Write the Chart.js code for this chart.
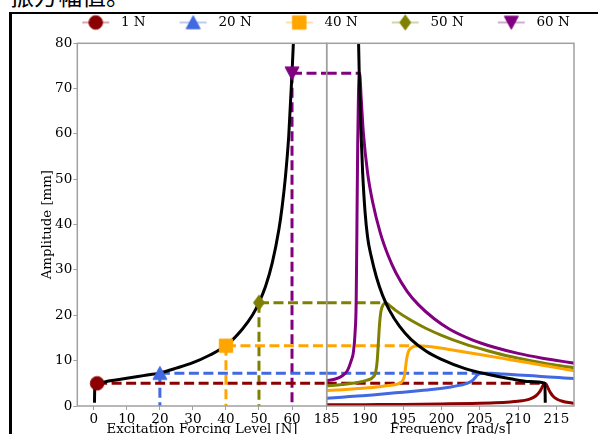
<!DOCTYPE html>
<html><head><meta charset="utf-8">
<script src="https://cdn.jsdelivr.net/npm/chart.js@4.4.0/dist/chart.umd.min.js"></script>
<style>
html,body{margin:0;padding:0;background:#fff;overflow:hidden;width:598px;height:434px;}
#wrap{position:relative;width:598px;height:434px;overflow:hidden;background:#fff;}
#hdr{position:absolute;left:10px;top:-17px;font-size:24px;line-height:24px;font-family:"Noto Sans CJK SC";color:#000;white-space:nowrap;}
.bl{position:absolute;background:#000;}
canvas{position:absolute;left:0;top:0;}
</style></head><body>
<div id="wrap">
<div id="hdr">振方幅值。</div>
<div class="bl" style="left:9px;top:12px;width:3px;height:430px"></div>
<div class="bl" style="left:9px;top:12px;width:570px;height:1.5px"></div>
<div class="bl" style="left:578px;top:11.5px;width:20px;height:2.5px"></div>
<canvas id="cL" width="598" height="445"></canvas>
<canvas id="cR" width="598" height="445"></canvas>
</div>
<script>
// ---------- data ----------
const seriesLabels = ['1 N', '20 N', '40 N', '50 N', '60 N'];
const seriesColors = ['#8B0000', '#4169E1', '#FFA500', '#808000', '#800080'];
const markerShapes = ['circle', 'triangle', 'rect', 'diamond', 'triangleDown'];
const forceLevels = [1, 20, 40, 50, 60];
const peakAmplitudes = [5.0, 7.25, 13.3, 22.8, 73.4];
const peakFrequencies = [213.5, 205.4, 197.0, 192.7, 189.3];

const backboneForce    = [0.2, 0.3, 1, 5, 10, 15, 20, 25, 30, 35, 40, 45, 48, 50, 52, 54, 56, 57, 58, 59, 60, 60.5, 61];
const backboneForceAmp = [0.7, 4.8, 5.05, 5.55, 6.1, 6.7, 7.3, 8.35, 9.55, 11.2, 13.3, 17.0, 20.0, 22.8, 26.4, 31.5, 38.8, 43.9, 50.5, 59.5, 73.4, 81.5, 92];

const backboneFreq    = [189.1, 189.25, 189.45, 189.7, 190.0, 190.35, 190.8, 191.5, 192.3, 193.2, 194.5, 196, 198, 200, 203, 206, 209, 211.5, 213.5, 213.55];
const backboneFreqAmp = [85, 73.4, 61.5, 51.3, 43.0, 37.1, 33.1, 28.4, 24.4, 21.1, 17.6, 14.7, 12.1, 10.3, 8.3, 7.0, 6.0, 5.4, 5.0, 0.7];

const freq1N = [185, 190, 195, 200, 204, 207, 209, 210.5, 211.5, 212.3, 212.8, 213.1, 213.35, 213.5, 213.65, 213.9, 214.2, 214.6, 215.1, 215.8, 216.6, 217.5];
const amp1N  = [0.25, 0.3, 0.35, 0.45, 0.55, 0.7, 0.9, 1.15, 1.5, 2.2, 3.1, 4.0, 4.8, 5.0, 4.8, 4.0, 3.0, 2.1, 1.5, 1.05, 0.75, 0.55];

const freq20N = [185, 187, 189, 191, 193, 195, 197, 199, 201, 202.5, 203.5, 204.1, 204.4, 204.7, 205.1, 205.5, 206.5, 208, 210, 212, 214, 216, 217.5];
const amp20N  = [1.7, 1.95, 2.2, 2.45, 2.75, 3.05, 3.35, 3.7, 4.15, 4.6, 5.1, 5.7, 6.3, 6.85, 7.2, 7.25, 7.2, 7.05, 6.85, 6.65, 6.4, 6.2, 6.05];

const freq40N = [185, 187, 189, 191, 193, 194.3, 194.9, 195.15, 195.3, 195.45, 195.7, 196.2, 197, 198, 199.8, 202, 205, 208, 211, 214, 217.5];
const amp40N  = [3.4, 3.6, 3.85, 4.1, 4.5, 4.9, 5.5, 6.6, 8.5, 10.5, 12.1, 13.0, 13.3, 13.2, 12.8, 12.2, 11.35, 10.5, 9.65, 8.75, 7.7];

const freq50N = [185, 187, 189, 190.3, 191, 191.4, 191.6, 191.75, 191.9, 192.1, 192.4, 192.7, 193.2, 194, 196, 198, 200, 203, 206, 209, 212, 215, 217.5];
const amp50N  = [4.4, 4.75, 5.2, 5.7, 6.3, 7.5, 10, 14, 18, 21, 22.4, 22.8, 22.2, 21.1, 18.9, 17.1, 15.6, 13.7, 12.2, 10.9, 9.9, 9.0, 8.4];

const freq60N = [185, 186, 187, 187.7, 188.2, 188.5, 188.7, 188.85, 188.95, 189.05, 189.15, 189.3, 189.5, 189.8, 190.35, 191, 192, 193, 194, 195.5, 197, 199, 201, 204, 207, 210, 213, 217.5];
const amp60N  = [5.6, 5.9, 6.6, 7.8, 10, 12, 16, 23, 40, 58, 69, 73.4, 68, 60, 51.3, 45.0, 38.2, 33.3, 29.5, 25.3, 22.3, 19.3, 17.0, 14.6, 12.9, 11.6, 10.6, 9.4];

const frfFreqs = [freq1N, freq20N, freq40N, freq50N, freq60N];
const frfAmps  = [amp1N, amp20N, amp40N, amp50N, amp60N];

const forceTicks = [0, 10, 20, 30, 40, 50, 60];
const freqTicks  = [185, 190, 195, 200, 205, 210, 215];
const ampTicks   = [0, 10, 20, 30, 40, 50, 60, 70, 80];

// ---------- styles ----------
const FONT = 'DejaVu Serif';
const AXIS = '#a0a0a0';
const DASH = [10, 4.5];
const LEFT_MIN = -5, LEFT_MAX = 70.5, RIGHT_MIN = 185, RIGHT_MAX = 217.3;

function drawMarker(ctx, shape, cx, cy, color) {
  ctx.fillStyle = color; ctx.strokeStyle = color; ctx.lineWidth = 1;
  ctx.beginPath();
  if (shape === 'circle') ctx.arc(cx, cy, 6.8, 0, Math.PI * 2);
  else if (shape === 'triangle') { ctx.moveTo(cx, cy - 6.8); ctx.lineTo(cx + 7, cy + 6.2); ctx.lineTo(cx - 7, cy + 6.2); ctx.closePath(); }
  else if (shape === 'triangleDown') { ctx.moveTo(cx, cy + 6.8); ctx.lineTo(cx + 7, cy - 6.2); ctx.lineTo(cx - 7, cy - 6.2); ctx.closePath(); }
  else if (shape === 'rect') ctx.rect(cx - 6.7, cy - 6.7, 13.4, 13.4);
  else if (shape === 'diamond') { ctx.moveTo(cx, cy - 7.5); ctx.lineTo(cx + 5.5, cy); ctx.lineTo(cx, cy + 7.5); ctx.lineTo(cx - 5.5, cy); ctx.closePath(); }
  ctx.fill(); ctx.stroke();
}
function markerImage(i) {
  const c = document.createElement('canvas'); c.width = 20; c.height = 20;
  drawMarker(c.getContext('2d'), markerShapes[i], 10, 10, seriesColors[i]);
  return c;
}
function legendImage(i) {
  const c = document.createElement('canvas'); c.width = 60; c.height = 20;
  const g = c.getContext('2d');
  g.globalAlpha = 0.45; g.strokeStyle = seriesColors[i]; g.lineWidth = 1.5;
  g.beginPath(); g.moveTo(28, 10); g.lineTo(55, 10); g.stroke();
  g.globalAlpha = 1;
  drawMarker(g, markerShapes[i], 41.5, 10, seriesColors[i]);
  return c;
}
const markerImgs = seriesLabels.map((_, i) => markerImage(i));
const legendImgs = seriesLabels.map((_, i) => legendImage(i));

function pts(xs, ys) { return xs.map((x, i) => ({x: x, y: ys[i]})); }
function curve(data, color, extra) {
  return Object.assign({data: data, borderColor: color, backgroundColor: color, borderWidth: 3,
    pointRadius: 0, pointHoverRadius: 0, showLine: true, fill: false,
    cubicInterpolationMode: 'monotone', order: 1, xAxisID: 'x', yAxisID: 'y'}, extra || {});
}
function dashed(data, color) {
  return curve(data, color, {borderDash: DASH, cubicInterpolationMode: 'default', tension: 0, order: 2});
}
function marker(x, y, i) {
  return {data: [{x: x, y: y}], pointStyle: markerImgs[i], pointRadius: 8, showLine: false,
    borderColor: seriesColors[i], backgroundColor: seriesColors[i], order: 0, xAxisID: 'x', yAxisID: 'y'};
}

const frame = {id: 'frame', afterDatasetsDraw(chart) {
  const {ctx, chartArea: a} = chart;
  ctx.save(); ctx.strokeStyle = AXIS; ctx.lineWidth = 1.5;
  ctx.strokeRect(a.left, a.top, a.right - a.left, a.bottom - a.top); ctx.restore();
}};

const tickFont = {family: FONT, size: 13.5};
const titleFont = {family: FONT, size: 13.3};
const gridTicks = {display: true, drawOnChartArea: false, drawTicks: true, tickLength: 4, color: AXIS, lineWidth: 1};
const hidden = {ticks: {display: false}, grid: {display: false}, border: {display: false}};

// ---------- left panel: amplitude vs forcing ----------
const leftSets = [curve(pts(backboneForce, backboneForceAmp), '#000')];
seriesLabels.forEach((_, i) => {
  leftSets.push(dashed([{x: forceLevels[i], y: peakAmplitudes[i]}, {x: LEFT_MAX, y: peakAmplitudes[i]}], seriesColors[i]));
  if (i > 0) leftSets.push(dashed([{x: forceLevels[i], y: peakAmplitudes[i]}, {x: forceLevels[i], y: 0}], seriesColors[i]));
  leftSets.push(marker(forceLevels[i], peakAmplitudes[i], i));
});

new Chart(document.getElementById('cL'), {
  type: 'scatter',
  data: {datasets: leftSets},
  options: {
    responsive: false, animation: false, devicePixelRatio: 1,
    layout: {padding: {top: 9.75, left: 26, right: 0, bottom: 0}},
    plugins: {
      tooltip: {enabled: false},
      legend: {display: true, position: 'top', align: 'center',
        labels: {usePointStyle: true, pointStyleWidth: 60, padding: 6, color: '#000', font: {family: FONT, size: 13.5},
          generateLabels: () => seriesLabels.map((t, i) => ({text: t, pointStyle: legendImgs[i],
            fillStyle: seriesColors[i], strokeStyle: seriesColors[i], lineWidth: 0, hidden: false, fontColor: '#000'}))}}
    },
    scales: {
      x: {type: 'linear', position: 'bottom', min: LEFT_MIN, max: LEFT_MAX,
        afterBuildTicks: s => { s.ticks = forceTicks.map(v => ({value: v})); },
        afterFit: s => { s.height = 39; },
        grid: gridTicks, border: {display: false},
        ticks: {font: tickFont, color: '#000', padding: 1, maxRotation: 0, autoSkip: false},
        title: {display: true, text: 'Excitation Forcing Level [N]', font: titleFont, color: '#000', padding: {top: 0, bottom: 7}}},
      y: {type: 'linear', position: 'left', min: 0, max: 80,
        afterBuildTicks: s => { s.ticks = ampTicks.map(v => ({value: v})); },
        afterFit: s => { s.width = 51.3; },
        grid: gridTicks, border: {display: false},
        ticks: {font: tickFont, color: '#000', padding: 1},
        title: {display: true, text: 'Amplitude [mm]', font: titleFont, color: '#000', padding: {top: 13.5, bottom: 0}}},
      yR: Object.assign({type: 'linear', position: 'right', afterFit: s => { s.width = 271.3; }}, hidden),
      xT: Object.assign({type: 'linear', position: 'top', afterFit: s => { s.height = 4.05; }}, hidden)
    }
  },
  plugins: [frame]
});

// ---------- right panel: amplitude vs frequency ----------
const rightSets = [curve(pts(backboneFreq, backboneFreqAmp), '#000')];
seriesLabels.forEach((_, i) => {
  rightSets.push(curve(pts(frfFreqs[i], frfAmps[i]), seriesColors[i]));
  rightSets.push(dashed([{x: RIGHT_MIN, y: peakAmplitudes[i]}, {x: peakFrequencies[i], y: peakAmplitudes[i]}], seriesColors[i]));
});

new Chart(document.getElementById('cR'), {
  type: 'scatter',
  data: {datasets: rightSets},
  options: {
    responsive: false, animation: false, devicePixelRatio: 1,
    layout: {padding: {top: 43.3, left: 0, right: 24, bottom: 0}},
    plugins: {tooltip: {enabled: false}, legend: {display: false}},
    scales: {
      x: {type: 'linear', position: 'bottom', min: RIGHT_MIN, max: RIGHT_MAX,
        afterBuildTicks: s => { s.ticks = freqTicks.map(v => ({value: v})); },
        afterFit: s => { s.height = 39; },
        grid: gridTicks, border: {display: false},
        ticks: {font: tickFont, color: '#000', padding: 1, maxRotation: 0, autoSkip: false},
        title: {display: true, text: 'Frequency [rad/s]', font: titleFont, color: '#000', padding: {top: 0, bottom: 7}}},
      y: Object.assign({type: 'linear', position: 'left', min: 0, max: 80, afterFit: s => { s.width = 326.7; }}, hidden)
    }
  },
  plugins: [frame]
});
</script>
</body></html>
